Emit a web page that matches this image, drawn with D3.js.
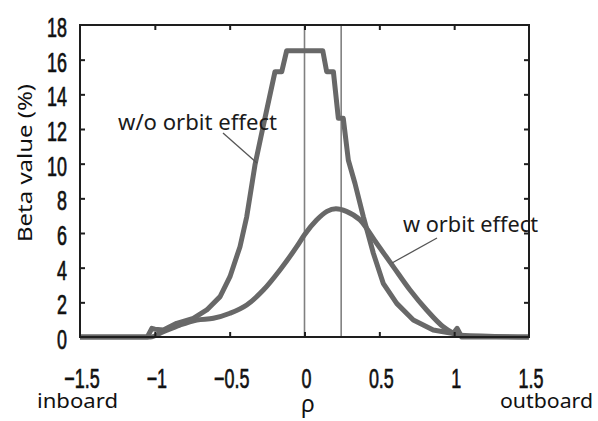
<!DOCTYPE html>
<html><head><meta charset="utf-8">
<script src="https://cdn.jsdelivr.net/npm/d3@7"></script>
<style>body{margin:0;background:#fff}svg{display:block}</style>
</head><body>
<svg id="c" width="598" height="421"></svg>
<script>
const xTicks = [-1.5, -1, -0.5, 0, 0.5, 1, 1.5];
const xTickLabels = ["\u22121.5", "\u22121", "\u22120.5", "0", "0.5", "1", "1.5"];
const yTicks = [0, 2, 4, 6, 8, 10, 12, 14, 16, 18];
const refLines = [0, 0.245];

const rhoWo = [-1.5, -1.05, -1.02, -1.0, -0.943, -0.854, -0.743, -0.653, -0.564, -0.498, -0.431, -0.386, -0.331, -0.28, -0.197, -0.152, -0.119, 0.122, 0.148, 0.193, 0.226, 0.259, 0.293, 0.337, 0.393, 0.46, 0.526, 0.616, 0.727, 0.86, 0.994, 1.02, 1.05, 1.5];
const valWo = [0, 0, 0.5, 0.45, 0.40, 0.79, 1.08, 1.56, 2.33, 3.48, 5.21, 6.94, 9.92, 12.0, 15.31, 15.31, 16.52, 16.52, 15.31, 15.31, 12.62, 12.62, 10.2, 8.87, 6.94, 4.83, 3.1, 1.94, 0.98, 0.40, 0.2, 0.5, 0, 0];

const rhoW = [-1.5, -1.03, -0.943, -0.832, -0.72, -0.609, -0.498, -0.386, -0.275, -0.164, -0.052, 0.0, 0.081, 0.15, 0.21, 0.28, 0.371, 0.482, 0.593, 0.705, 0.816, 0.927, 1.04, 1.5];
const valW = [0, 0, 0.31, 0.69, 0.98, 1.08, 1.37, 1.85, 2.71, 3.87, 5.21, 5.9, 6.75, 7.25, 7.4, 7.25, 6.75, 5.41, 4.06, 2.71, 1.56, 0.59, 0.1, 0];

const svg = d3.select("#c");
const L = 80, R = 529, T = 25, B = 337;
const x = d3.scaleLinear().domain([-1.5, 1.5]).range([L, R]);
const y = d3.scaleLinear().domain([0, 18]).range([B, T]);
const ink = "#1e1e1e", curveCol = "#686868";

svg.selectAll("line.ref").data(refLines).enter().append("line")
  .attr("x1", d => x(d)).attr("x2", d => x(d)).attr("y1", T).attr("y2", B)
  .attr("stroke", "#808080").attr("stroke-width", 1.6);

const woData = rhoWo.map((r, i) => [r, valWo[i]]);
const wData = rhoW.map((r, i) => [r, valW[i]]);
svg.append("path").datum(wData)
  .attr("d", d3.line().x(d => x(d[0])).y(d => y(d[1])).curve(d3.curveMonotoneX))
  .attr("fill", "none").attr("stroke", curveCol).attr("stroke-width", 5).attr("stroke-linejoin", "round");
svg.append("path").datum(woData)
  .attr("d", d3.line().x(d => x(d[0])).y(d => y(d[1])))
  .attr("fill", "none").attr("stroke", curveCol).attr("stroke-width", 5).attr("stroke-linejoin", "round");

const inner = xTicks.slice(1, -1);
svg.append("g").attr("transform", `translate(0,${B})`)
  .call(d3.axisTop(x).tickValues(inner).tickSize(5).tickFormat(""));
svg.append("g").attr("transform", `translate(0,${T})`)
  .call(d3.axisBottom(x).tickValues(inner).tickSize(5).tickFormat(""));
svg.append("g").attr("transform", `translate(${L},0)`)
  .call(d3.axisRight(y).tickValues(yTicks.slice(1, -1)).tickSize(5).tickFormat(""));
svg.append("g").attr("transform", `translate(${R},0)`)
  .call(d3.axisLeft(y).tickValues(yTicks.slice(1, -1)).tickSize(5).tickFormat(""));
svg.selectAll(".domain").remove();
svg.selectAll(".tick line").attr("stroke", ink).attr("stroke-width", 2);

svg.append("rect").attr("x", L).attr("y", T).attr("width", R - L).attr("height", B - T)
  .attr("fill", "none").attr("stroke", ink).attr("stroke-width", 2);

const numFont = "'Liberation Sans', Arial, sans-serif";
const sx = 0.64;
svg.selectAll("text.xt").data(xTicks).enter().append("text")
  .attr("transform", d => `translate(${x(d) + 2},388) scale(${sx},1)`)
  .attr("text-anchor", "middle")
  .attr("font-family", numFont).attr("font-size", 28).attr("fill", "#111")
  .attr("stroke", "#111").attr("stroke-width", 0.7)
  .text(d => xTickLabels[xTicks.indexOf(d)]);
svg.selectAll("text.yt").data(yTicks).enter().append("text")
  .attr("transform", d => `translate(67,${y(d) + 12}) scale(${sx},1)`)
  .attr("text-anchor", "end")
  .attr("font-family", numFont).attr("font-size", 28).attr("fill", "#111")
  .attr("stroke", "#111").attr("stroke-width", 0.7)
  .text(d => d);

const lblFont = "'Noto Sans', 'Open Sans', sans-serif";
svg.append("text").attr("transform", "translate(32,163) rotate(-90)")
  .attr("text-anchor", "middle").attr("font-family", lblFont).attr("font-size", 19)
  .attr("fill", "#111").attr("textLength", 158).attr("lengthAdjust", "spacingAndGlyphs")
  .text("Beta value (%)");

svg.append("text").attr("x", 37).attr("y", 408).attr("font-family", lblFont).attr("font-size", 20)
  .attr("fill", "#111").attr("textLength", 81).attr("lengthAdjust", "spacingAndGlyphs").text("inboard");
svg.append("text").attr("x", 500).attr("y", 408).attr("font-family", lblFont).attr("font-size", 20)
  .attr("fill", "#111").attr("textLength", 93).attr("lengthAdjust", "spacingAndGlyphs").text("outboard");
svg.append("text").attr("x", 308).attr("y", 412).attr("text-anchor", "middle")
  .attr("font-family", lblFont).attr("font-size", 23).attr("fill", "#111").text("\u03c1");

svg.append("text").attr("x", 118).attr("y", 130).attr("font-family", lblFont).attr("font-size", 21)
  .attr("fill", "#1a1a1a").attr("textLength", 159).attr("lengthAdjust", "spacingAndGlyphs").text("w/o orbit effect");
svg.append("text").attr("x", 403).attr("y", 232).attr("font-family", lblFont).attr("font-size", 21)
  .attr("fill", "#1a1a1a").attr("textLength", 135).attr("lengthAdjust", "spacingAndGlyphs").text("w orbit effect");

svg.append("line").attr("x1", 223).attr("y1", 133).attr("x2", 257).attr("y2", 163)
  .attr("stroke", "#555").attr("stroke-width", 1.3);
svg.append("line").attr("x1", 437).attr("y1", 238).attr("x2", 392).attr("y2", 263)
  .attr("stroke", "#555").attr("stroke-width", 1.3);
</script>
</body></html>
